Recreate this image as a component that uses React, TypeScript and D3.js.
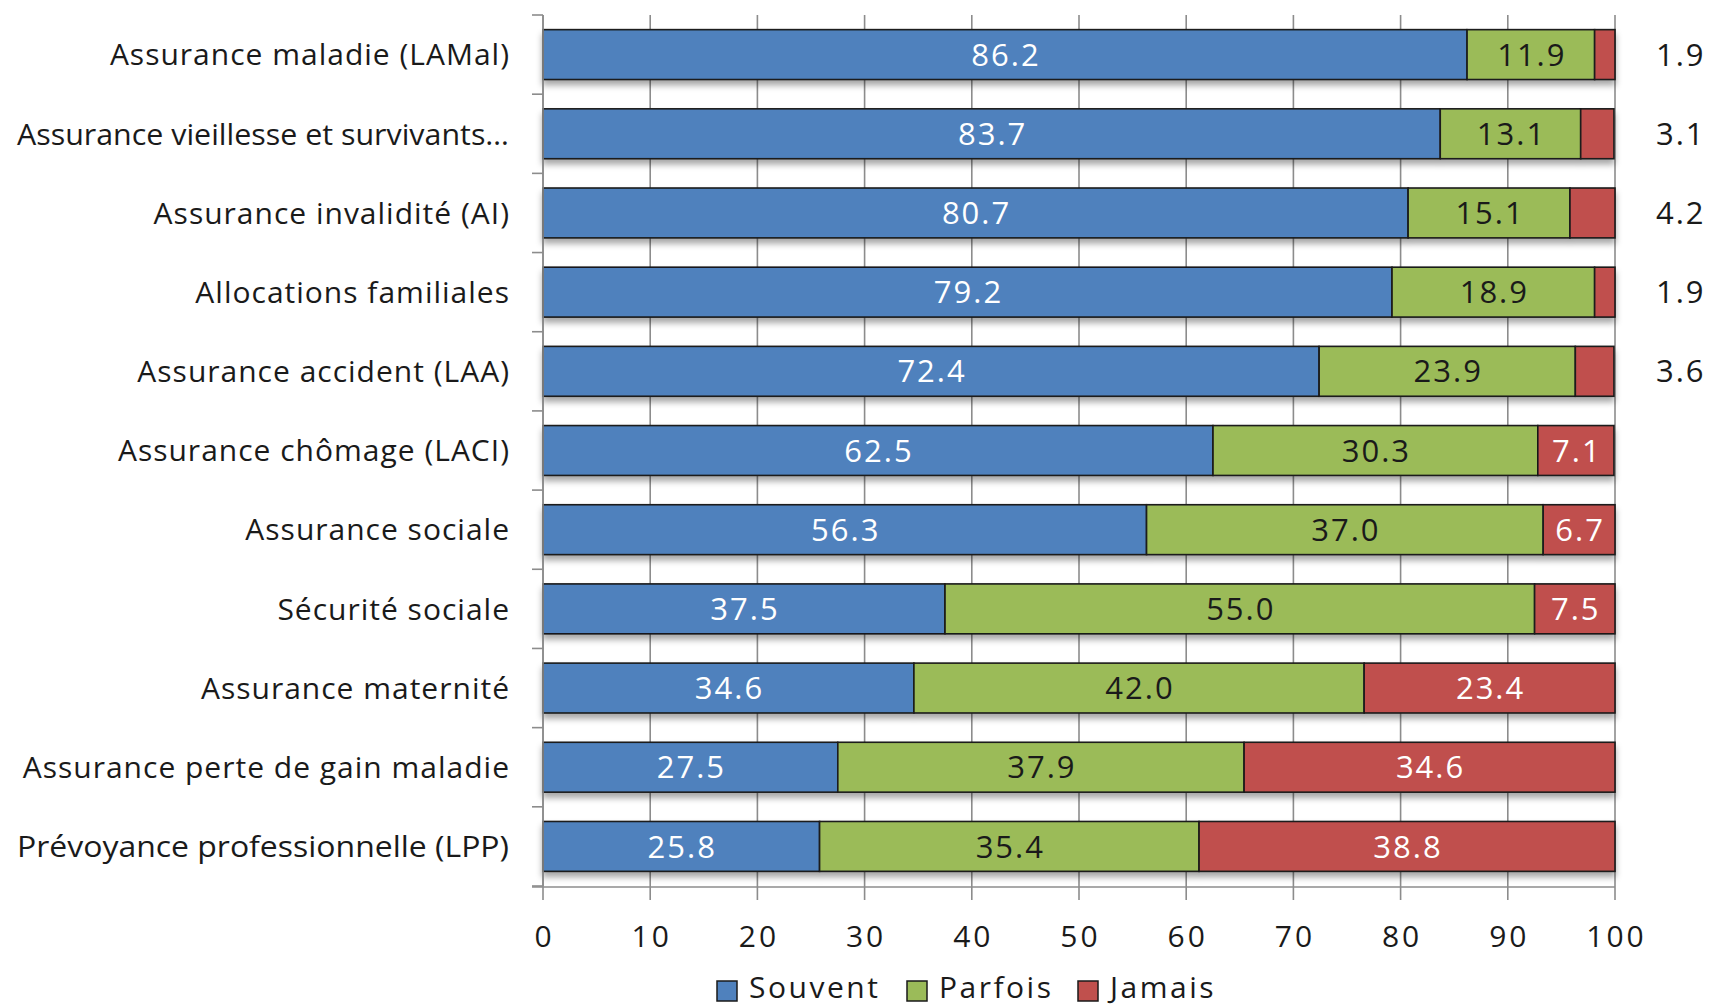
import * as d3 from 'd3';
import React from 'react';

const categories = [
  'Assurance maladie (LAMal)',
  'Assurance vieillesse et survivants…',
  'Assurance invalidité (AI)',
  'Allocations familiales',
  'Assurance accident (LAA)',
  'Assurance chômage (LACI)',
  'Assurance sociale',
  'Sécurité sociale',
  'Assurance maternité',
  'Assurance perte de gain maladie',
  'Prévoyance professionnelle (LPP)',
];

const souvent = [86.2, 83.7, 80.7, 79.2, 72.4, 62.5, 56.3, 37.5, 34.6, 27.5, 25.8];
const parfois = [11.9, 13.1, 15.1, 18.9, 23.9, 30.3, 37.0, 55.0, 42.0, 37.9, 35.4];
const jamais = [1.9, 3.1, 4.2, 1.9, 3.6, 7.1, 6.7, 7.5, 23.4, 34.6, 38.8];

const seriesNames = ['Souvent', 'Parfois', 'Jamais'];
const seriesColors = ['#4f81bd', '#9bbb59', '#c0504d'];
const labelColors = ['#ffffff', '#1a1a1a', '#ffffff'];
const xTicks = [0, 10, 20, 30, 40, 50, 60, 70, 80, 90, 100];

const W = 1715;
const H = 1007;
const FONT = "'Open Sans', sans-serif";

// width a label takes, so the long one can be squeezed into the left margin
const measure = (text: string, size: number, ls: number) => {
  const ctx = document.createElement('canvas').getContext('2d');
  if (!ctx) return 0;
  ctx.font = `${size}px 'Open Sans'`;
  return ctx.measureText(text).width + ls * text.length;
};

export default function App() {
  const x = d3.scaleLinear().domain([0, 100]).range([543, 1615]);
  const y = d3
    .scaleBand()
    .domain(categories)
    .range([15, 886])
    .paddingInner(0.37)
    .paddingOuter(0.185);

  const rows = categories.map((c, i) => ({
    cat: c,
    Souvent: souvent[i],
    Parfois: parfois[i],
    Jamais: jamais[i],
  }));
  const stacked = d3.stack<any>().keys(seriesNames)(rows);
  const bw = y.bandwidth();
  const boundaries = d3.range(categories.length + 1).map((i) => 15 + i * y.step());

  // the source text is a little wider than Open Sans, so spread the letters
  const numLs = 2;
  const catLs = 1;
  const tickLs = 3;
  const legLs = 2.5;
  const maxLabel = 492;

  return (
    <div style={{ position: 'absolute', left: 0, top: 0 }}>
      <svg width={W} height={H} style={{ display: 'block', background: '#fff' }}>
        <defs>
          <filter id="shadow" x="-5%" y="-20%" width="110%" height="160%">
            <feDropShadow dx="0" dy="5" stdDeviation="3" floodColor="#000" floodOpacity="0.35" />
          </filter>
        </defs>

        {/* vertical gridlines */}
        {xTicks.map((t) => (
          <line key={t} x1={x(t)} x2={x(t)} y1={15} y2={900} stroke="#8c8c8c" strokeWidth={1.6} />
        ))}

        {/* bars */}
        {categories.map((c, i) => (
          <g key={c} filter="url(#shadow)">
            {stacked.map((s, k) => (
              <rect
                key={k}
                x={x(s[i][0])}
                y={y(c)!}
                width={x(s[i][1]) - x(s[i][0])}
                height={bw}
                fill={seriesColors[k]}
                stroke="#1a1a1a"
                strokeWidth={1.6}
              />
            ))}
          </g>
        ))}

        {/* data labels */}
        {categories.map((c, i) =>
          stacked.map((s, k) => {
            const v = s[i].data[seriesNames[k]] as number;
            const cy = y(c)! + bw / 2;
            if (v < 5) {
              return (
                <text
                  key={c + k}
                  x={1656}
                  y={cy}
                  dy="0.36em"
                  fontFamily={FONT}
                  fontSize={31}
                  letterSpacing={numLs}
                  fill="#1a1a1a"
                >
                  {v.toFixed(1)}
                </text>
              );
            }
            return (
              <text
                key={c + k}
                x={(x(s[i][0]) + x(s[i][1])) / 2 + numLs / 2}
                y={cy}
                dy="0.36em"
                textAnchor="middle"
                fontFamily={FONT}
                fontSize={31}
                letterSpacing={numLs}
                fill={labelColors[k]}
              >
                {v.toFixed(1)}
              </text>
            );
          })
        )}

        {/* y axis */}
        <line x1={543} x2={543} y1={15} y2={886} stroke="#8c8c8c" strokeWidth={1.6} />
        {boundaries.map((b, i) => (
          <line key={i} x1={532} x2={543} y1={b} y2={b} stroke="#8c8c8c" strokeWidth={1.6} />
        ))}
        {categories.map((c) => {
          const tooWide = measure(c, 30, catLs) > maxLabel;
          return (
            <text
              key={c}
              x={tooWide ? 509 : 509 + catLs}
              y={y(c)! + bw / 2}
              dy="0.36em"
              textAnchor="end"
              fontFamily={FONT}
              fontSize={30}
              letterSpacing={tooWide ? 0 : catLs}
              textLength={tooWide ? maxLabel : undefined}
              lengthAdjust={tooWide ? 'spacingAndGlyphs' : undefined}
              fill="#1a1a1a"
            >
              {c}
            </text>
          );
        })}

        {/* x axis */}
        <line x1={532} x2={1615} y1={887} y2={887} stroke="#8c8c8c" strokeWidth={1.6} />
        {xTicks.map((t) => (
          <text
            key={t}
            x={x(t) + tickLs / 2}
            y={936}
            dy="0.36em"
            textAnchor="middle"
            fontFamily={FONT}
            fontSize={30}
            letterSpacing={tickLs}
            fill="#1a1a1a"
          >
            {t}
          </text>
        ))}

        {/* legend */}
        {seriesNames.map((n, k) => {
          const lx = [717, 907, 1078][k];
          return (
            <g key={n}>
              <rect x={lx} y={981} width={20} height={20} fill={seriesColors[k]} stroke="#1a1a1a" strokeWidth={1.5} />
              <text
                x={lx + 32}
                y={998}
                fontFamily={FONT}
                fontSize={30}
                letterSpacing={legLs}
                fill="#1a1a1a"
              >
                {n}
              </text>
            </g>
          );
        })}
      </svg>
    </div>
  );
}
